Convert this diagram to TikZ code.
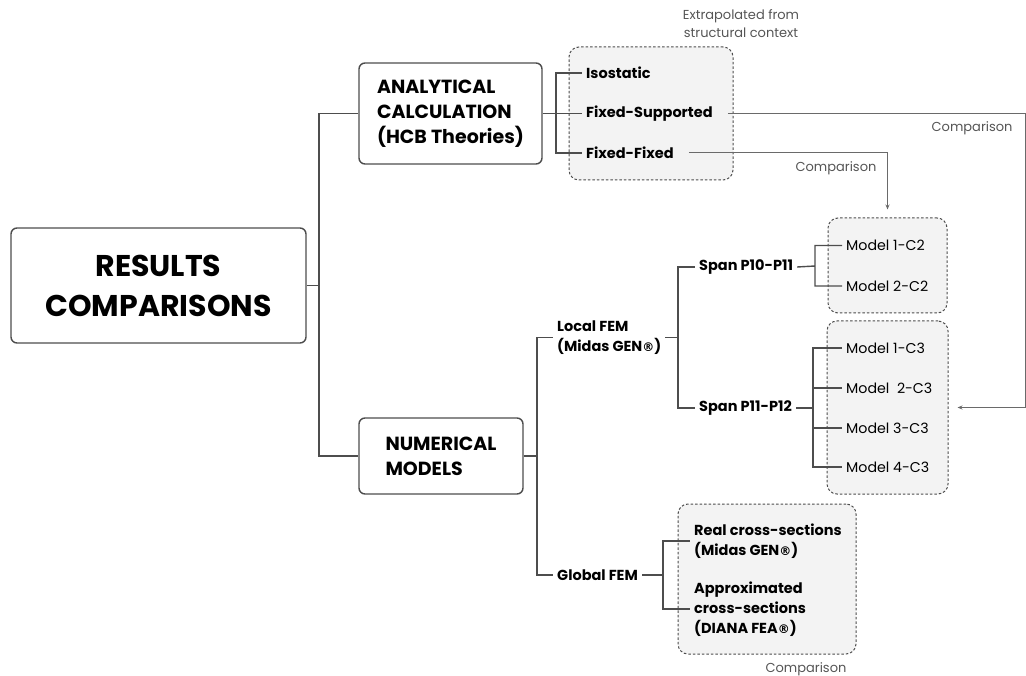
\documentclass[tikz,border=0pt]{standalone}
\usepackage{fontspec}
\setmainfont{Poppins}
\newfontfamily\regfont{DejaVu Sans}
\newcommand{\regmark}{{\regfont\fontsize{12}{12}\selectfont ®}}
\usetikzlibrary{arrows.meta}
\definecolor{linegray}{HTML}{4D4D4D}
\definecolor{cmpgray}{HTML}{6A6A6A}
\definecolor{notegray}{HTML}{555555}
\definecolor{boxgray}{HTML}{F3F3F3}

\begin{document}
\begin{tikzpicture}[x=1pt,y=-1pt,
  box/.style={draw=linegray,line width=1.4pt,rounded corners=6pt,fill=white},
  grp/.style={draw=linegray,dash pattern=on 2.5pt off 2pt,line width=1pt,rounded corners=10pt,fill=boxgray},
  leafb/.style={font=\bfseries\fontsize{14.5}{20}\selectfont,anchor=west,inner xsep=4pt,align=left},
  leaf/.style={font=\fontsize{14.2}{20}\selectfont,anchor=west,inner xsep=4pt},
  note/.style={font=\fontsize{13}{18}\selectfont,text=notegray},
  branch/.style={draw=linegray,line width=1.4pt},
  cmp/.style={draw=cmpgray,line width=1pt,-{Stealth[length=5pt,width=4pt]}}]
  \useasboundingbox (0,0) rectangle (1026,676);

  % dashed groups
  \node[grp,minimum width=164,minimum height=133] (g1) at (651,113.5) {};
  \node[grp,minimum width=119,minimum height=95] (g2) at (887.5,265.5) {};
  \node[grp,minimum width=121,minimum height=173] (g3) at (887.5,407.5) {};
  \node[grp,minimum width=178,minimum height=150] (g4) at (767,579) {};

  % main boxes
  \node[box,minimum width=295,minimum height=115,align=center,
        font=\bfseries\fontsize{30}{40}\selectfont] (res) at (158.5,285.5) {RESULTS\\COMPARISONS};
  \node[box,minimum width=183,minimum height=101,align=left,
        font=\bfseries\fontsize{19}{25}\selectfont] (ana) at (450.5,113.5) {ANALYTICAL\\CALCULATION\\(HCB Theories)};
  \node[box,minimum width=164,minimum height=76,align=left,
        font=\bfseries\fontsize{19}{25}\selectfont] (num) at (441,456) {NUMERICAL\\MODELS};

  % analytical leaves
  \node[leafb] (iso) at (582,73) {Isostatic};
  \node[leafb] (fs) at (582,113.5) {Fixed-Supported};
  \node[leafb] (ff) at (582,153) {Fixed-Fixed};

  % numerical leaves
  \node[leafb] (loc) at (553,337.5) {Local FEM\\(Midas GEN\regmark)};
  \node[leafb] (glob) at (553,575) {Global FEM};
  \node[leafb] (sp1) at (695,267) {Span P10-P11};
  \node[leafb] (sp2) at (695,408) {Span P11-P12};
  \node[leaf] (m12) at (842,245.5) {Model 1-C2};
  \node[leaf] (m22) at (842,286) {Model 2-C2};
  \node[leaf] (m13) at (842,348) {Model 1-C3};
  \node[leaf] (m23) at (842,388) {Model~~2-C3};
  \node[leaf] (m33) at (842,428) {Model 3-C3};
  \node[leaf] (m43) at (842,467) {Model 4-C3};
  \node[leafb] (real) at (690,541) {Real cross-sections\\(Midas GEN\regmark)};
  \node[leafb] (approx) at (690,609) {Approximated\\cross-sections\\(DIANA FEA\regmark)};

  % junctions
  \coordinate (j0) at (319,285.5);
  \coordinate (j1) at (556,113.5);
  \coordinate (j2) at (537,456);
  \coordinate (j3) at (678,337.5);
  \coordinate (j4) at (815,266);
  \coordinate (j5) at (813,408);
  \coordinate (j6) at (663,575);

  \draw[branch] (res.east) -- (j0) (j0) |- (ana.west) (j0) |- (num.west);
  \draw[branch] (ana.east) -- (j1) (j1) |- (iso.west) (j1) |- (ff.west) (j1) -- (fs.west);
  \draw[branch] (num.east) -- (j2) (j2) |- (loc.west) (j2) |- (glob.west);
  \draw[branch] (loc.east) -- (j3) (j3) |- (sp1.west) (j3) |- (sp2.west);
  \draw[branch] (sp1.east) -- (j4) (j4) |- (m12.west) (j4) |- (m22.west);
  \draw[branch] (sp2.east) -- (j5) (j5) |- (m13.west) (j5) |- (m43.west)
                (j5) |- (m23.west) (j5) |- (m33.west);
  \draw[branch] (glob.east) -- (j6) (j6) |- (real.west) (j6) |- (approx.west);

  % comparisons
  \coordinate (c1) at (1025,113.5);
  \draw[cmp,shorten >=9pt] ([xshift=11pt]fs.east) -- (c1) |- (g3.east);
  \draw[cmp,shorten >=8pt] ([xshift=11pt]ff.east) -| (g2.north);
  \node[note,anchor=east] (lab1) at (1016,128) {Comparison};
  \node[note] (lab2) at (836,168) {Comparison};
  \node[note] (lab3) at (806,669) {Comparison};
  \node[note,align=center] (extra) at (741,24) {Extrapolated from\\structural context};
\end{tikzpicture}
\end{document}
